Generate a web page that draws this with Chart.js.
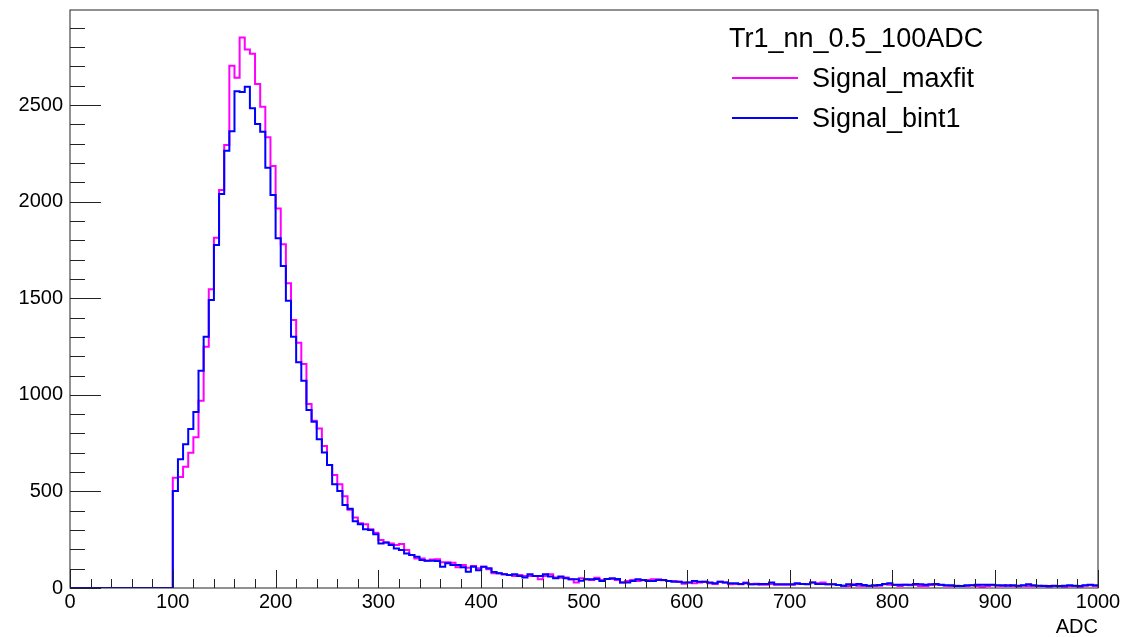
<!DOCTYPE html>
<html>
<head>
<meta charset="utf-8">
<title>Tr1_nn_0.5_100ADC</title>
<script src="https://cdn.jsdelivr.net/npm/chart.js@4.4.1/dist/chart.umd.min.js"></script>
<style>
  html, body { margin: 0; padding: 0; background: #fff; }
  #wrap { width: 1124px; height: 637px; }
</style>
</head>
<body>
<div id="wrap"><canvas id="adcChart" width="1124" height="637"></canvas></div>
<script>
// ----- histogram data (5 ADC bins, first filled bin starts at 100) -----
const binStart = 100;
const binWidth = 5;
const xMax = 1000;
const yMax = 2992;

const maxfitCounts = [
    571, 575, 628, 700, 780, 969, 1249, 1546, 1813, 2060,
    2293, 2703, 2641, 2850, 2788, 2766, 2609, 2491, 2333, 2184,
    1965, 1779, 1577, 1387, 1270, 1159, 952, 866, 826, 735,
    637, 585, 537, 475, 405, 365, 335, 330, 304, 286,
    248, 236, 231, 223, 228, 197, 171, 153, 153, 141,
    148, 149, 133, 133, 131, 107, 119, 105, 114, 102,
    110, 97, 76, 76, 71, 67, 62, 67, 62, 62,
    62, 45, 62, 71, 55, 53, 55, 45, 29, 50,
    45, 41,
    53, 41, 47, 47, 41, 29, 36, 41, 36, 40, 41, 45, 45, 40, 36, 36,
    33, 22, 29, 24, 28, 33, 24, 21, 33, 28, 19, 21, 19, 28, 19, 22,
    17, 17, 21, 17, 17, 17, 17, 21, 21, 21, 28, 24, 28, 19, 19, 16, 12,
    10, 19, 12, 10, 10, 10, 12, 19, 17, 16, 10, 17, 14, 16, 10, 10,
    16, 17, 16, 12, 10, 12, 10, 10, 14, 10, 7, 10, 14, 12, 10, 16, 10,
    9, 12, 10, 10, 10, 12, 7, 10, 9, 7, 10, 10, 7, 12, 14, 10
];

const bint1Counts = [
    502, 666, 744, 823, 911, 1125, 1301, 1491, 1775, 2039,
    2263, 2365, 2572, 2567, 2595, 2483, 2402, 2362, 2176, 2034,
    1810, 1667, 1487, 1301, 1168, 1073, 921, 861, 770, 702,
    637, 537, 502, 430, 410, 345, 330, 304, 300, 278,
    231, 236, 223, 205, 197, 179, 171, 162, 145, 141,
    141, 140, 110, 128, 119, 119, 107, 84, 110, 92,
    110, 102, 83, 76, 71, 67, 71, 62, 55, 71,
    62, 62, 71, 59, 50, 59, 50, 45, 45, 38,
    45, 45,
    47, 36, 47, 50, 47, 29, 29, 36, 45, 41, 36, 36, 41, 41, 36, 33,
    33, 29, 29, 36, 33, 33, 28, 24, 33, 29, 24, 24, 21, 24, 19, 19,
    21, 21, 29, 19, 19, 19, 19, 24, 21, 19, 28, 21, 21, 19, 19, 16, 12,
    19, 16, 21, 16, 12, 14, 16, 21, 24, 17, 17, 17, 17, 21, 19, 17,
    19, 21, 17, 14, 14, 10, 10, 14, 14, 17, 17, 17, 17, 14, 14, 12, 14,
    12, 14, 19, 14, 12, 10, 10, 12, 10, 12, 14, 12, 10, 14, 17, 14
];

const xTickLabels = [0, 100, 200, 300, 400, 500, 600, 700, 800, 900, 1000];
const yTickLabels = [0, 500, 1000, 1500, 2000, 2500];
const xMinorStep = 20;
const yMinorStep = 100;

const legendTitle = 'Tr1_nn_0.5_100ADC';
const seriesNames = ['Signal_maxfit', 'Signal_bint1'];
const seriesColors = ['#ff00ff', '#0000ff'];

const FONT = '"Liberation Sans", Arial, Helvetica, sans-serif';

// histogram -> step line points (left bin edges + closing point at xMax)
function toSteps(counts) {
    const pts = [{ x: 0, y: 0 }];
    counts.forEach((c, i) => {
        pts.push({ x: binStart + i * binWidth, y: c });
    });
    pts.push({ x: xMax, y: counts[counts.length - 1] });
    return pts;
}

// ----- ROOT style frame, inward ticks, legend and axis title -----
const rootDecor = {
    id: 'rootDecor',
    afterDraw(chart) {
        const ctx = chart.ctx;
        const area = chart.chartArea;
        const xs = chart.scales.x;
        const ys = chart.scales.y;

        ctx.save();
        ctx.strokeStyle = '#222';
        ctx.lineWidth = 1;

        // frame
        ctx.strokeRect(area.left, area.top, area.right - area.left, area.bottom - area.top);

        // x ticks (pointing up into the frame)
        ctx.beginPath();
        for (let v = 0; v <= xMax; v += xMinorStep) {
            const px = Math.round(xs.getPixelForValue(v)) + 0.5;
            const len = xTickLabels.includes(v) ? 18 : 9;
            ctx.moveTo(px, area.bottom);
            ctx.lineTo(px, area.bottom - len);
        }
        // y ticks (pointing right into the frame)
        for (let v = 0; v <= ys.max; v += yMinorStep) {
            const py = Math.round(ys.getPixelForValue(v)) + 0.5;
            const len = yTickLabels.includes(v) ? 31 : 15;
            ctx.moveTo(area.left, py);
            ctx.lineTo(area.left + len, py);
        }
        ctx.stroke();

        // axis title
        ctx.fillStyle = '#000';
        ctx.font = '20px ' + FONT;
        ctx.textAlign = 'right';
        ctx.textBaseline = 'alphabetic';
        ctx.fillText('ADC', area.right, 633);

        // legend
        ctx.textAlign = 'left';
        ctx.font = '27px ' + FONT;
        ctx.fillText(legendTitle, 729, 47);
        seriesNames.forEach((name, i) => {
            const ly = 78 + i * 40;
            ctx.strokeStyle = seriesColors[i];
            ctx.lineWidth = 2;
            ctx.beginPath();
            ctx.moveTo(732, ly);
            ctx.lineTo(798, ly);
            ctx.stroke();
            ctx.fillText(name, 812, ly + 9);
        });
        ctx.restore();
    }
};

const chartCanvas = document.getElementById('adcChart');

new Chart(chartCanvas, {
    type: 'line',
    data: {
        datasets: [
            {
                label: seriesNames[0],
                data: toSteps(maxfitCounts),
                borderColor: seriesColors[0],
                borderWidth: 2,
                stepped: 'before',
                pointRadius: 0,
                fill: false,
                borderJoinStyle: 'miter',
                order: 1
            },
            {
                label: seriesNames[1],
                data: toSteps(bint1Counts),
                borderColor: seriesColors[1],
                borderWidth: 2,
                stepped: 'before',
                pointRadius: 0,
                fill: false,
                borderJoinStyle: 'miter',
                order: 0
            }
        ]
    },
    options: {
        responsive: false,
        animation: false,
        devicePixelRatio: 1,
        layout: { padding: { top: 10, right: 26, left: 0, bottom: 0 } },
        plugins: {
            legend: { display: false },
            tooltip: { enabled: false }
        },
        scales: {
            x: {
                type: 'linear',
                min: 0,
                max: xMax,
                afterBuildTicks: s => { s.ticks = xTickLabels.map(v => ({ value: v })); },
                afterFit: s => {
                    s.height = 49;
                    s.paddingLeft = 0;
                    s.paddingRight = 0;
                },
                grid: { display: false, drawTicks: false },
                border: { display: false },
                ticks: {
                    autoSkip: false,
                    maxRotation: 0,
                    padding: 2,
                    color: '#000',
                    font: { family: FONT, size: 20 },
                    callback: v => String(v)
                }
            },
            y: {
                type: 'linear',
                min: 0,
                max: yMax,
                afterBuildTicks: s => { s.ticks = yTickLabels.map(v => ({ value: v })); },
                afterFit: s => {
                    s.width = 70;
                    s.paddingTop = 0;
                    s.paddingBottom = 0;
                },
                grid: { display: false, drawTicks: false },
                border: { display: false },
                ticks: {
                    padding: 7,
                    color: '#000',
                    font: { family: FONT, size: 20 },
                    callback: v => String(v)
                }
            }
        }
    },
    plugins: [rootDecor]
});
</script>
</body>
</html>
